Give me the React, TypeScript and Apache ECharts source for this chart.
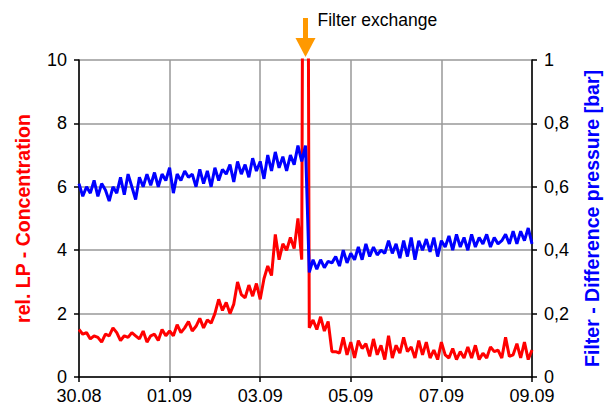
import React, { useEffect, useRef } from "react";
import * as echarts from "echarts";

const dayLabels = ["30.08", "01.09", "03.09", "05.09", "07.09", "09.09"];
const samplesPerDay = 12;
const exchangeDay = 5;
const exchangeLabel = "Filter exchange";
const leftName = "rel. LP - Concentration";
const rightName = "Filter - Difference pressure [bar]";

const concentration = [
  1.5, 1.35, 1.4, 1.2, 1.3, 1.25, 1.1, 1.35, 1.3, 1.55, 1.4, 1.15, 1.3, 1.25, 1.4, 1.3, 1.2, 1.45, 1.1, 1.3, 1.35, 1.15, 1.5, 1.3, 1.45,
  1.3, 1.65, 1.4, 1.55, 1.75, 1.45, 1.6, 1.85, 1.55, 1.8, 1.7, 2.0,
  2.45, 2.1, 2.35, 2.0, 2.3, 3.0, 2.6, 2.5, 2.9, 2.55, 2.95, 2.45,
  3.1, 3.5, 3.2, 4.5, 3.7, 4.2, 4.0, 4.4, 4.05, 5.0, 3.7, 40,
  1.55, 1.8, 1.5, 1.9, 1.45, 1.75, 0.8, 0.8, 0.75, 1.25, 0.7, 1.1,
  0.6, 1.15, 0.9, 1.05, 0.65, 1.2, 0.7, 1.0, 0.55, 1.3, 0.6, 1.0,
  0.75, 1.25, 0.8, 0.95, 0.6, 1.15, 0.7, 1.1, 0.6, 0.85, 0.55, 1.1,
  0.7, 0.6, 0.9, 0.55, 0.8, 0.6, 0.95, 0.6, 1.0, 0.55, 0.75, 0.6,
  0.95, 0.8, 0.85, 0.6, 1.25, 0.65, 0.7, 1.05, 0.6, 1.1, 0.55, 0.85,
];

const pressure = [
  0.61, 0.57, 0.6, 0.58, 0.62, 0.57, 0.61, 0.59, 0.555, 0.6, 0.58, 0.63, 0.575, 0.64, 0.6, 0.56, 0.63, 0.6, 0.64, 0.605, 0.645, 0.6, 0.64, 0.62, 0.66,
  0.58, 0.64, 0.62, 0.65, 0.63, 0.64, 0.6, 0.655, 0.61, 0.65, 0.6, 0.66,
  0.62, 0.655, 0.64, 0.67, 0.615, 0.68, 0.64, 0.67, 0.63, 0.69, 0.65, 0.68,
  0.625, 0.7, 0.65, 0.71, 0.66, 0.695, 0.65, 0.7, 0.67, 0.73, 0.68, 0.73,
  0.33, 0.37, 0.34, 0.37, 0.345, 0.365, 0.36, 0.38, 0.35, 0.4, 0.36, 0.39,
  0.37, 0.41, 0.37, 0.42, 0.38, 0.41, 0.385, 0.4, 0.39, 0.43, 0.39, 0.42,
  0.375, 0.43, 0.38, 0.44, 0.37, 0.43, 0.4, 0.435, 0.395, 0.44, 0.38, 0.43,
  0.41, 0.445, 0.4, 0.45, 0.41, 0.44, 0.4, 0.45, 0.41, 0.44, 0.42, 0.45,
  0.41, 0.44, 0.42, 0.43, 0.45, 0.42, 0.46, 0.42, 0.46, 0.43, 0.47, 0.42,
];

const FONT = "'Liberation Sans', Arial, sans-serif";

export default function App() {
  const ref = useRef<HTMLDivElement>(null);

  useEffect(() => {
    if (!ref.current) return;
    const chart = echarts.init(ref.current, undefined, { renderer: "svg" });
    const redData = concentration.map((v, i) => [i / samplesPerDay, v]);
    const blueData = pressure.map((v, i) => [i / samplesPerDay, v]);

    chart.setOption({
      animation: false,
      backgroundColor: "#fff",
      grid: { left: 79, right: 82, top: 60, bottom: 33, containLabel: false },
      xAxis: {
        type: "value",
        min: 0,
        max: 10,
        interval: 2,
        axisLine: { show: true, onZero: false, lineStyle: { color: "#000", width: 1.5 } },
        axisTick: { show: true, length: 5, lineStyle: { color: "#000", width: 1.5 } },
        splitLine: { show: true, lineStyle: { color: "#999", width: 1.5 } },
        axisLabel: {
          formatter: (v: number) => dayLabels[Math.round(v / 2)] ?? "",
          fontSize: 18,
          color: "#000",
          fontFamily: FONT,
          margin: 10,
        },
      },
      yAxis: [
        {
          type: "value",
          position: "left",
          min: 0,
          max: 10,
          interval: 2,
          name: leftName,
          nameLocation: "middle",
          nameGap: 46,
          nameRotate: 90,
          nameTextStyle: { color: "#ff0000", fontSize: 19.5, fontWeight: "bold", fontFamily: FONT },
          axisLine: { show: true, lineStyle: { color: "#000", width: 1.5 } },
          axisTick: { show: true, length: 5, lineStyle: { color: "#000", width: 1.5 } },
          splitLine: { show: true, lineStyle: { color: "#999", width: 1.5 } },
          axisLabel: { fontSize: 18, color: "#000", fontFamily: FONT, margin: 12 },
        },
        {
          type: "value",
          position: "right",
          min: 0,
          max: 1,
          interval: 0.2,
          name: rightName,
          nameLocation: "middle",
          nameGap: 50,
          nameRotate: 90,
          nameTextStyle: { color: "#0000ff", fontSize: 19.5, fontWeight: "bold", fontFamily: FONT },
          axisLine: { show: true, lineStyle: { color: "#000", width: 1.5 } },
          axisTick: { show: true, length: 5, lineStyle: { color: "#000", width: 1.5 } },
          splitLine: { show: false },
          axisLabel: {
            fontSize: 18,
            color: "#000",
            fontFamily: FONT,
            margin: 12,
            formatter: (v: number) => String(Math.round(v * 10) / 10).replace(".", ","),
          },
        },
      ],
      series: [
        {
          type: "line",
          yAxisIndex: 0,
          data: redData,
          showSymbol: false,
          clip: true,
          lineStyle: { color: "#ff0000", width: 3 },
          itemStyle: { color: "#ff0000" },
          z: 2,
        },
        {
          type: "line",
          yAxisIndex: 1,
          data: blueData,
          showSymbol: false,
          clip: true,
          lineStyle: { color: "#0000ff", width: 3 },
          itemStyle: { color: "#0000ff" },
          z: 3,
        },
      ],
    });

    const px = chart.convertToPixel({ xAxisIndex: 0 }, exchangeDay) as number;
    const topY = chart.convertToPixel({ yAxisIndex: 0 }, 10) as number;
    const orange = "#ff9900";
    chart.setOption({
      graphic: [
        { type: "rect", shape: { x: px - 2.5, y: topY - 42, width: 5, height: 22 }, style: { fill: orange }, z: 100 },
        {
          type: "polygon",
          shape: { points: [[px - 10, topY - 22], [px + 10, topY - 22], [px, topY - 3]] },
          style: { fill: orange },
          z: 100,
        },
        {
          type: "text",
          x: px + 12,
          y: topY - 40,
          style: { text: exchangeLabel, fontSize: 17.5, fontFamily: FONT, fill: "#000", textVerticalAlign: "middle" },
          z: 100,
        },
      ],
    });

    return () => chart.dispose();
  }, []);

  return <div ref={ref} style={{ position: "absolute", left: 0, top: 0, width: 614, height: 410 }} />;
}
